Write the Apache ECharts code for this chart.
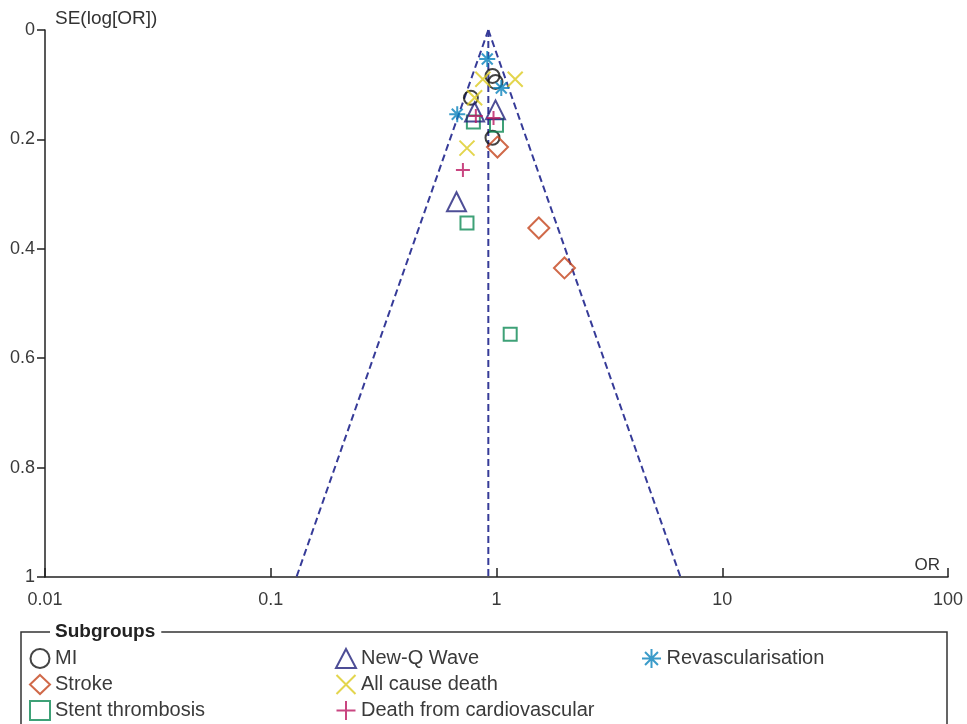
<!DOCTYPE html>
<html>
<head>
<meta charset="utf-8">
<script src="https://cdn.jsdelivr.net/npm/echarts@6/dist/echarts.min.js"></script>
<style>html,body{margin:0;padding:0;background:#fff;}#c{width:967px;height:724px;}</style>
</head>
<body>
<div id="c"></div>
<script>
// ---- data ----
const xTickLabels = ['0.01', '0.1', '1', '10', '100'];
const yTickLabels = ['0', '0.2', '0.4', '0.6', '0.8', '1'];

const miOR = [0.96, 0.99, 0.77, 0.96];
const miSE = [0.084, 0.095, 0.124, 0.197];
const strokeOR = [1.01, 1.54, 2.0];
const strokeSE = [0.214, 0.362, 0.435];
const stentOR = [0.79, 1.0, 0.74, 1.15];
const stentSE = [0.168, 0.174, 0.353, 0.556];
const newqOR = [0.80, 0.99, 0.665];
const newqSE = [0.150, 0.146, 0.314];
const allDeathOR = [0.87, 1.21, 0.74, 0.80];
const allDeathSE = [0.090, 0.090, 0.216, 0.124];
const cvDeathOR = [0.71, 0.81, 0.97];
const cvDeathSE = [0.256, 0.157, 0.161];
const revascOR = [0.91, 1.05, 0.67];
const revascSE = [0.053, 0.106, 0.154];

// funnel (pooled OR and 95% limits at SE = 1)
const funnelSE = [0, 1];
const funnelCentreOR = [0.92, 0.92];
const funnelLeftOR = [0.92, 0.13];
const funnelRightOR = [0.92, 6.53];

function pts(xs, ys) { return xs.map((x, i) => [x, ys[i]]); }

const P_X = 'path://M0,0L10,10M10,0L0,10';
const P_PLUS = 'path://M5,0L5,10M0,5L10,5';
const P_AST = 'path://M5,0L5,10M0,5L10,5M1.6,1.6L8.4,8.4M8.4,1.6L1.6,8.4';

const groups = [
  {name: 'MI', x: miOR, y: miSE, symbol: 'circle', size: 14, color: '#151515'},
  {name: 'Stroke', x: strokeOR, y: strokeSE, symbol: 'diamond', size: 21, color: '#c4441c'},
  {name: 'Stent thrombosis', x: stentOR, y: stentSE, symbol: 'rect', size: 13, color: '#0e8a55'},
  {name: 'New-Q Wave', x: newqOR, y: newqSE, symbol: 'triangle', size: 19, color: '#22227c'},
  {name: 'All cause death', x: allDeathOR, y: allDeathSE, symbol: P_X, size: 15, color: '#dccb20'},
  {name: 'Death from cardiovascular', x: cvDeathOR, y: cvDeathSE, symbol: P_PLUS, size: 14, color: '#bb1862'},
  {name: 'Revascularisation', x: revascOR, y: revascSE, symbol: P_AST, size: 16, color: '#0a82bc'}
];

const funnelStyle = {color: '#363b98', width: 2, type: [7, 4]};

const series = [
  {type: 'line', data: pts(funnelCentreOR, funnelSE), symbol: 'none', lineStyle: funnelStyle, silent: true, z: 1},
  {type: 'line', data: pts(funnelLeftOR, funnelSE), symbol: 'none', lineStyle: funnelStyle, silent: true, z: 1},
  {type: 'line', data: pts(funnelRightOR, funnelSE), symbol: 'none', lineStyle: funnelStyle, silent: true, z: 1}
].concat(groups.map(g => ({
  name: g.name,
  type: 'scatter',
  data: pts(g.x, g.y),
  symbol: g.symbol,
  symbolSize: g.size,
  itemStyle: {color: 'rgba(0,0,0,0)', borderColor: g.color, borderWidth: 2},
  z: 3
})));

const FONT = 'Liberation Sans, Arial, sans-serif';
const legendText = {fontFamily: FONT, fontSize: 20, color: '#3a3a3a'};
function legend(left, names) {
  return {
    orient: 'vertical', left: left, top: 643, height: 110, itemGap: 5, itemWidth: 20, itemHeight: 19,
    data: names, textStyle: legendText, selectedMode: false,
    itemStyle: {borderWidth: 2}
  };
}

const chart = echarts.init(document.getElementById('c'), null, {renderer: 'canvas'});
chart.setOption({
  backgroundColor: '#ffffff',
  animation: false,
  grid: {left: 45, right: 19, top: 30, bottom: 147},
  xAxis: {
    type: 'log', logBase: 10, min: 0.01, max: 100, position: 'bottom',
    name: 'OR', nameLocation: 'end', nameGap: -8,
    nameTextStyle: {fontFamily: FONT, fontSize: 17, color: '#333', align: 'right', verticalAlign: 'bottom', padding: [0, 0, 3, 0]},
    axisLine: {onZero: false, lineStyle: {color: '#222', width: 1.5}},
    axisTick: {inside: true, length: 9, lineStyle: {color: '#222', width: 1.5}},
    axisLabel: {margin: 14, fontFamily: FONT, fontSize: 18, color: '#3a3a3a',
      formatter: v => xTickLabels[Math.round(Math.log10(v)) + 2]},
    splitLine: {show: false}
  },
  yAxis: {
    type: 'value', inverse: true, min: 0, max: 1, interval: 0.2,
    name: 'SE(log[OR])', nameLocation: 'start', nameGap: 2,
    nameTextStyle: {fontFamily: FONT, fontSize: 19, color: '#333', align: 'left', verticalAlign: 'bottom', padding: [0, 0, 0, 10]},
    axisLine: {onZero: false, lineStyle: {color: '#222', width: 1.5}},
    axisTick: {length: 8, lineStyle: {color: '#222', width: 1.5}},
    axisLabel: {margin: 10, fontFamily: FONT, fontSize: 18, color: '#3a3a3a',
      formatter: v => yTickLabels[Math.round(v * 5)]},
    splitLine: {show: false}
  },
  legend: [
    legend(24, ['MI', 'Stroke', 'Stent thrombosis']),
    legend(330, ['New-Q Wave', 'All cause death', 'Death from cardiovascular']),
    legend(636, ['Revascularisation'])
  ],
  graphic: [
    {type: 'rect', shape: {x: 21, y: 632, width: 926, height: 120}, style: {fill: 'none', stroke: '#333', lineWidth: 1.5}, z: 0},
    {type: 'text', x: 50, y: 632, style: {text: 'Subgroups', font: 'bold 19px "Liberation Sans", Arial, sans-serif', fill: '#222', backgroundColor: '#fff', padding: [0, 6, 0, 5], verticalAlign: 'middle'}, z: 1}
  ],
  series: series
});
</script>
</body>
</html>
